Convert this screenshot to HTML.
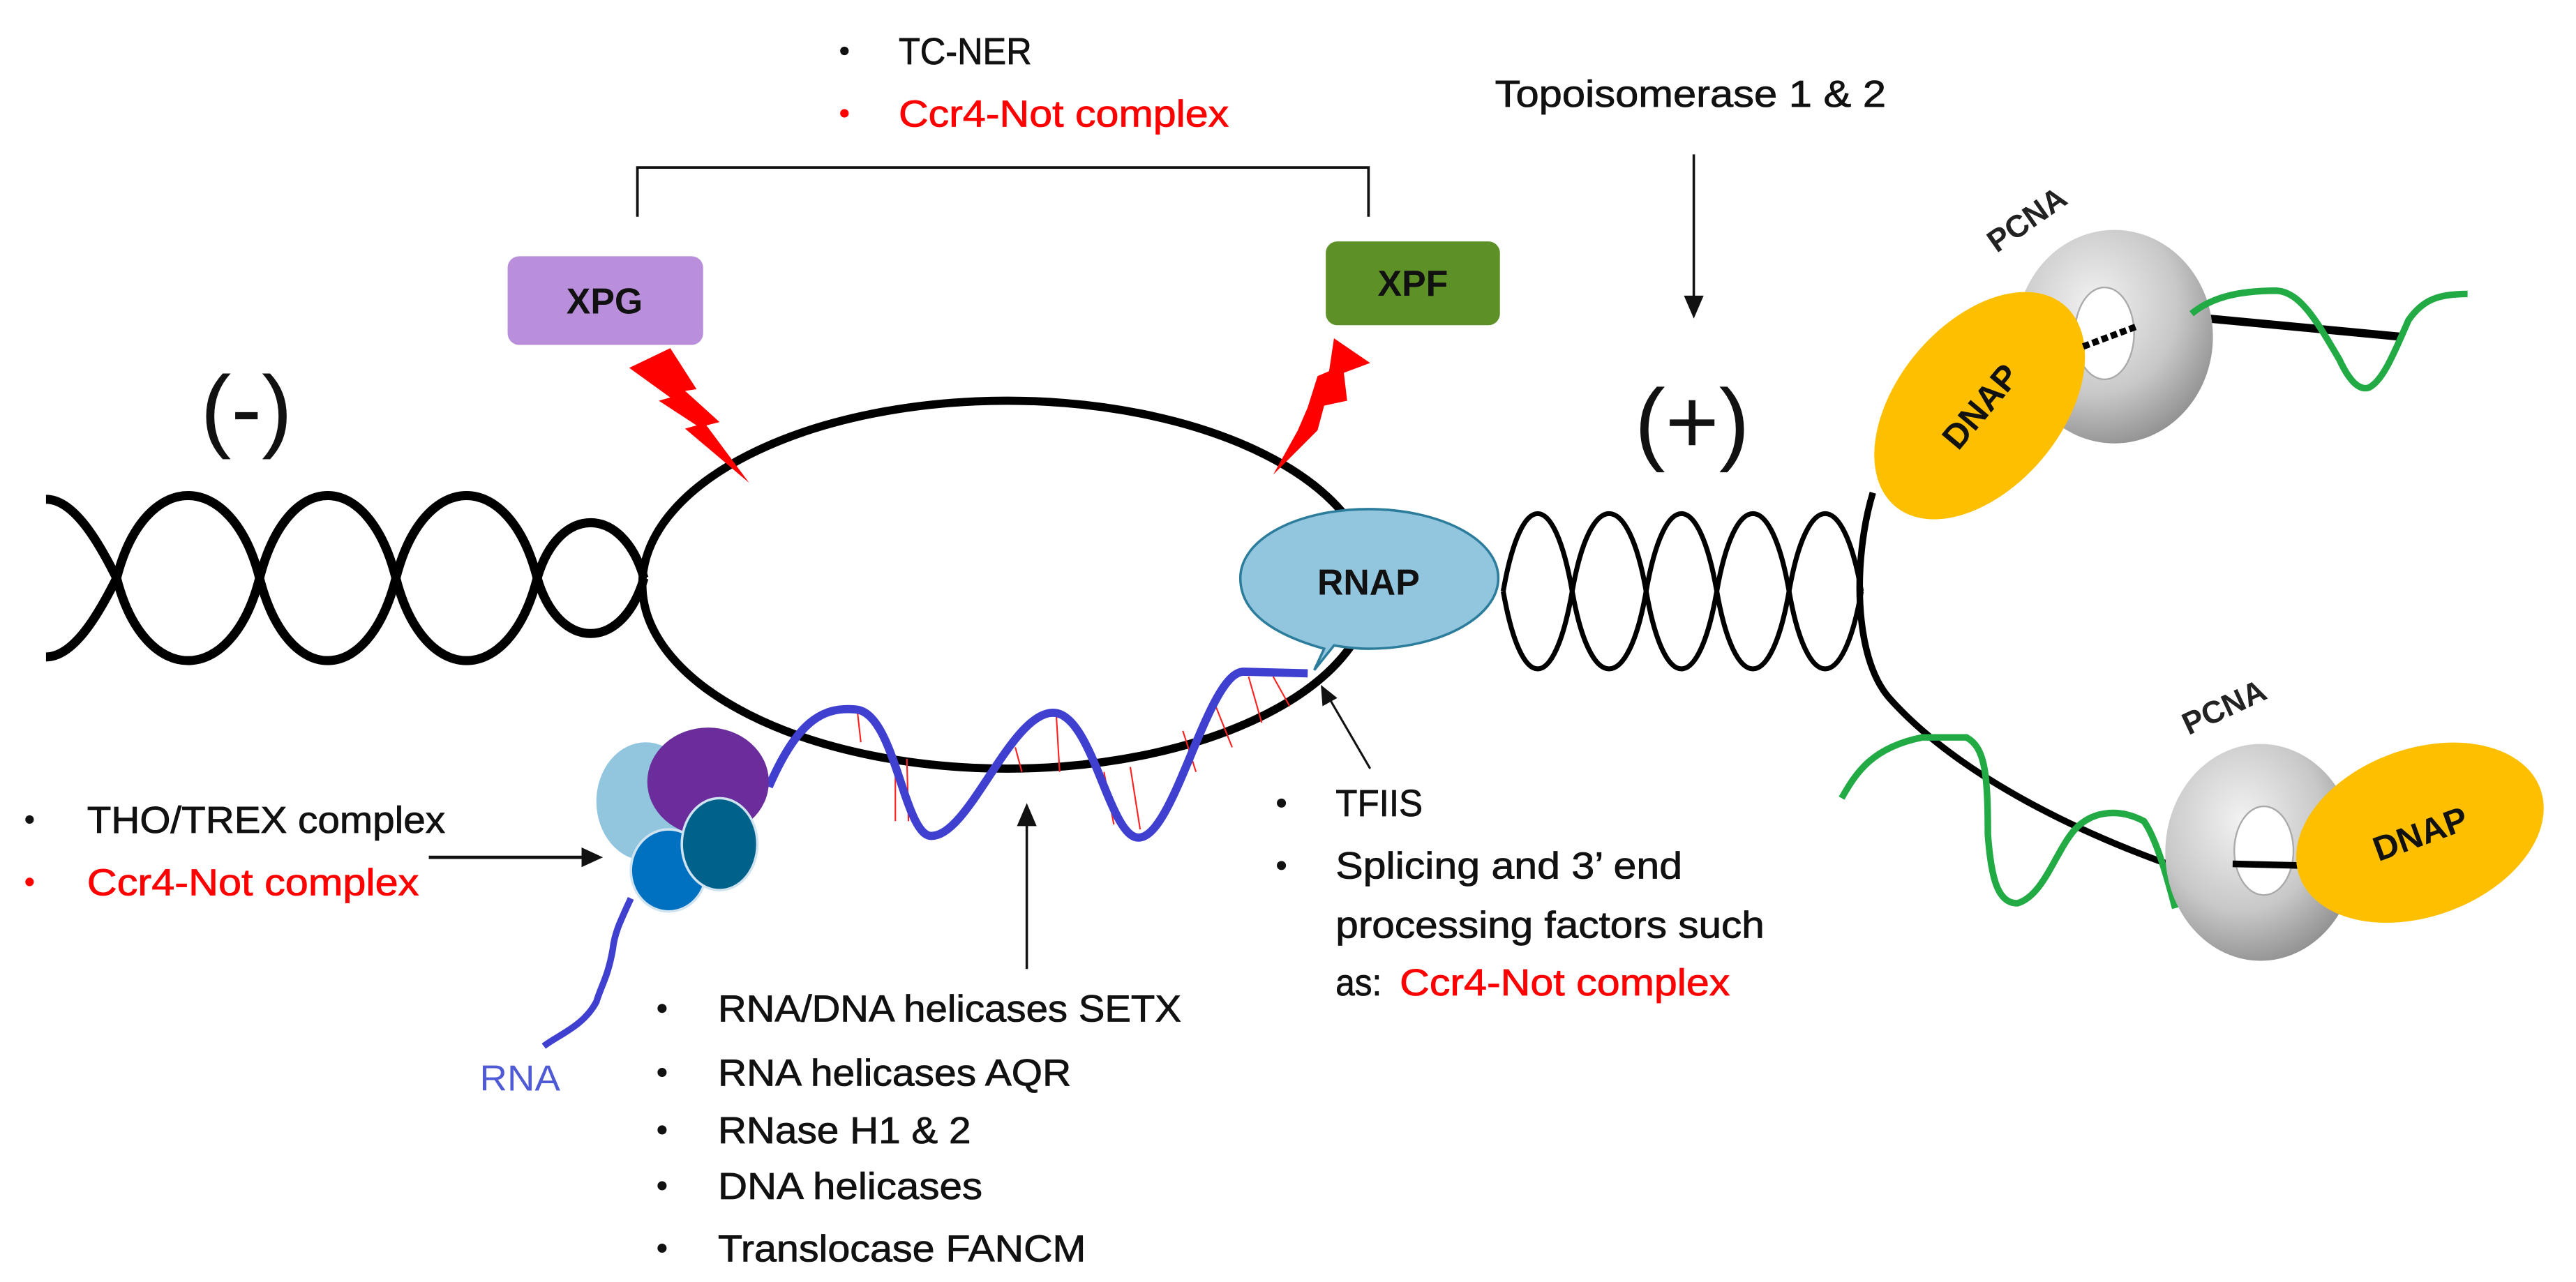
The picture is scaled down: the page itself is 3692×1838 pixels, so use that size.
<!DOCTYPE html>
<html><head><meta charset="utf-8"><style>
html,body{margin:0;padding:0;background:#fff;}
svg{display:block;}
text{font-family:"Liberation Sans",sans-serif;}
.t{stroke:currentColor;stroke-width:0.35;}
</style></head><body>
<svg width="3692" height="1838" viewBox="0 0 1568 780.6" preserveAspectRatio="none" xmlns="http://www.w3.org/2000/svg">
<defs>
<radialGradient id="rg" cx="0.4" cy="0.35" r="0.7">
<stop offset="0" stop-color="#f2f2f2"/><stop offset="0.6" stop-color="#c8c8c8"/><stop offset="1" stop-color="#8e8e8e"/>
</radialGradient>
</defs>
<rect width="1568" height="781" fill="#fff"/>

<circle cx="514" cy="31" r="2.6" fill="#111"/>
<text x="547" y="39" font-size="23" fill="#111" stroke="#111" stroke-width="0.35" textLength="81" lengthAdjust="spacingAndGlyphs">TC-NER</text>
<circle cx="514" cy="69" r="2.6" fill="#f00"/>
<text x="547" y="77" font-size="23" fill="#f00" stroke="#f00" stroke-width="0.35" textLength="201" lengthAdjust="spacingAndGlyphs">Ccr4-Not complex</text>
<text x="910" y="65" font-size="23" fill="#111" stroke="#111" stroke-width="0.35" textLength="238" lengthAdjust="spacingAndGlyphs">Topoisomerase 1 &amp; 2</text>

<path d="M388,132 L388,102 L833,102 L833,132" fill="none" stroke="#111" stroke-width="1.6"/>

<line x1="1031" y1="94" x2="1031" y2="182" stroke="#111" stroke-width="1.5"/>
<polygon points="1025,180 1037,180 1031,194" fill="#111"/>

<rect x="309" y="156" width="119" height="54" rx="7" fill="#b98fdb"/>
<text x="368" y="191" font-size="22" font-weight="bold" fill="#111" text-anchor="middle">XPG</text>
<rect x="807" y="147" width="106" height="51" rx="7" fill="#5e9028"/>
<text x="860" y="180" font-size="22" font-weight="bold" fill="#111" text-anchor="middle">XPF</text>

<text x="150" y="268" font-size="56" fill="#111" text-anchor="middle">(-)</text>
<text x="1030" y="276" font-size="56" fill="#111" text-anchor="middle">(+)</text>

<ellipse cx="613" cy="356" rx="222" ry="112" fill="none" stroke="#000" stroke-width="5"/>

<polygon points="383,224 408,212 424,237 417,238 438,257 430,259 456,294 417,261 424,259 401,244 408,242" fill="#ff0000"/>
<polygon points="812,206 834,221 818,227 820,244 806,247 802,262 775,289 790,262 796,248 802,229 809,226" fill="#ff0000"/>

<g fill="none" stroke="#000" stroke-width="5.5">
<path d="M28,304 C45,304 60,330 71,352 C88,419 141,419 158,352 C175,285 224,285 241,352 C258,419 310,419 327,352 C340,307 379,307 392,352"/>
<path d="M28,400 C45,400 60,374 71,352 C88,285 141,285 158,352 C175,419 224,419 241,352 C258,285 310,285 327,352 C340,397 379,397 392,352"/>
</g>

<g fill="none" stroke="#000" stroke-width="3">
<path d="M915,360 C926,297 946,297 957,360 C968,423 991,423 1002,360 C1013,297 1034,297 1045,360 C1056,423 1078,423 1089,360 C1100,297 1122,297 1133,360"/>
<path d="M915,360 C926,423 946,423 957,360 C968,297 991,297 1002,360 C1013,423 1034,423 1045,360 C1056,297 1078,297 1089,360 C1100,423 1122,423 1133,360"/>
</g>

<path d="M1140,300 C1128,340 1128,400 1150,425 C1190,470 1260,505 1322,527" fill="none" stroke="#000" stroke-width="4"/>
<path d="M1334,193 L1461,205" fill="none" stroke="#000" stroke-width="5"/>

<path d="M800,408 L806,395 C770,385 755,370 755,352 C755,328 790,310 833,310 C876,310 912,328 912,352 C912,376 876,395 833,395 C825,395 818,394 812,393 Z" fill="#92c5de" stroke="#2c7c9c" stroke-width="1.5"/>
<text x="833" y="362" font-size="22" font-weight="bold" fill="#111" text-anchor="middle">RNAP</text>

<g stroke="#ff2020" stroke-width="0.9">
<line x1="522" y1="434" x2="524" y2="452"/>
<line x1="545" y1="460" x2="545" y2="500"/><line x1="552" y1="462" x2="553" y2="500"/>
<line x1="618" y1="455" x2="622" y2="470"/><line x1="643" y1="436" x2="645" y2="470"/>
<line x1="672" y1="470" x2="678" y2="502"/><line x1="688" y1="467" x2="694" y2="505"/>
<line x1="720" y1="445" x2="728" y2="470"/><line x1="740" y1="430" x2="750" y2="455"/>
<line x1="760" y1="412" x2="768" y2="440"/><line x1="775" y1="412" x2="785" y2="430"/>
</g>

<path d="M468,479 C485,440 500,430 521,432 C545,434 550,509 567,509 C590,509 615,434 641,434 C665,434 675,510 693,510 C715,510 735,409 757,409 L796,410" fill="none" stroke="#4040d0" stroke-width="5"/>
<path d="M384,547 C378,560 374,568 373,578 C370,595 366,600 363,610 C355,625 340,630 331,637" fill="none" stroke="#4040d0" stroke-width="4"/>
<text x="292" y="664" font-size="22" fill="#4f5bd5" textLength="49" lengthAdjust="spacingAndGlyphs">RNA</text>

<ellipse cx="393" cy="488" rx="30" ry="36" fill="#92c5de"/>
<ellipse cx="431" cy="476" rx="37" ry="33" fill="#6b2d9b"/>
<ellipse cx="407" cy="530" rx="23" ry="25" fill="#0070c0" stroke="#cfe3f0" stroke-width="1.5"/>
<ellipse cx="438" cy="514" rx="23" ry="28" fill="#00628a" stroke="#cfe3f0" stroke-width="1.5"/>

<circle cx="18" cy="499" r="2.6" fill="#111"/>
<text x="53" y="507" font-size="23" fill="#111" stroke="#111" stroke-width="0.35" textLength="218" lengthAdjust="spacingAndGlyphs">THO/TREX complex</text>
<circle cx="18" cy="537" r="2.6" fill="#f00"/>
<text x="53" y="545" font-size="23" fill="#f00" stroke="#f00" stroke-width="0.35" textLength="202" lengthAdjust="spacingAndGlyphs">Ccr4-Not complex</text>
<line x1="261" y1="522" x2="356" y2="522" stroke="#111" stroke-width="2"/>
<polygon points="354,516 367,522 354,528" fill="#111"/>

<line x1="625" y1="500" x2="625" y2="590" stroke="#111" stroke-width="1.5"/>
<polygon points="619,503 631,503 625,489" fill="#111"/>

<g font-size="23" fill="#111" stroke="#111" stroke-width="0.35">
<circle cx="403" cy="614" r="2.6"/><text x="437" y="622" textLength="282" lengthAdjust="spacingAndGlyphs">RNA/DNA helicases SETX</text>
<circle cx="403" cy="653" r="2.6"/><text x="437" y="661" textLength="215" lengthAdjust="spacingAndGlyphs">RNA helicases AQR</text>
<circle cx="403" cy="688" r="2.6"/><text x="437" y="696" textLength="154" lengthAdjust="spacingAndGlyphs">RNase H1 &amp; 2</text>
<circle cx="403" cy="722" r="2.6"/><text x="437" y="730" textLength="161" lengthAdjust="spacingAndGlyphs">DNA helicases</text>
<circle cx="403" cy="760" r="2.6"/><text x="437" y="768" textLength="224" lengthAdjust="spacingAndGlyphs">Translocase FANCM</text>
</g>

<line x1="834" y1="468" x2="809" y2="425" stroke="#111" stroke-width="1.3"/>
<polygon points="804,417 814,425 805,430" fill="#111"/>

<g font-size="23" fill="#111" stroke="#111" stroke-width="0.35">
<circle cx="780" cy="489" r="2.6"/><text x="813" y="497" textLength="53" lengthAdjust="spacingAndGlyphs">TFIIS</text>
<circle cx="780" cy="527" r="2.6"/><text x="813" y="535" textLength="211" lengthAdjust="spacingAndGlyphs">Splicing and 3’ end</text>
<text x="813" y="571" textLength="261" lengthAdjust="spacingAndGlyphs">processing factors such</text>
<text x="813" y="606" textLength="28" lengthAdjust="spacingAndGlyphs">as:</text>
<text x="852" y="606" fill="#f00" stroke="#f00" textLength="201" lengthAdjust="spacingAndGlyphs">Ccr4-Not complex</text>
</g>

<ellipse cx="1287" cy="205" rx="60" ry="65" fill="url(#rg)"/>
<ellipse cx="1281" cy="203" rx="18" ry="28" fill="#fff" stroke="#aaa" stroke-width="1"/>
<ellipse cx="1205" cy="247" rx="80" ry="50" transform="rotate(-50 1205 247)" fill="#fdbf00"/>
<text x="1205" y="255" font-size="21" font-weight="bold" fill="#111" text-anchor="middle" transform="rotate(-50 1205 247)">DNAP</text>
<path d="M1268,211 L1300,199" stroke="#000" stroke-width="4" stroke-dasharray="4,2"/>
<path d="M1334,191 C1345,182 1360,177 1386,177 C1400,178 1410,195 1424,219 C1430,232 1436,238 1442,236 C1450,232 1456,218 1466,195 C1475,182 1485,179 1502,179" fill="none" stroke="#22aa44" stroke-width="4"/>
<text x="1234" y="140" font-size="19" font-weight="bold" fill="#222" text-anchor="middle" transform="rotate(-35 1234 134)">PCNA</text>

<path d="M1121,486 C1130,470 1140,455 1170,449 L1197,449 C1208,455 1210,470 1210,508 C1212,535 1216,550 1228,550 C1245,545 1252,515 1265,503 C1275,494 1290,492 1305,500 C1312,510 1318,530 1324,553" fill="none" stroke="#22aa44" stroke-width="4"/>
<ellipse cx="1376" cy="519" rx="58" ry="66" fill="url(#rg)"/>
<ellipse cx="1378" cy="518" rx="18" ry="27" fill="#fff" stroke="#aaa" stroke-width="1"/>
<line x1="1359" y1="526" x2="1400" y2="527" stroke="#000" stroke-width="4"/>
<ellipse cx="1473" cy="507" rx="78" ry="51" transform="rotate(-20 1473 507)" fill="#fdbf00"/>
<text x="1473" y="515" font-size="21" font-weight="bold" fill="#111" text-anchor="middle" transform="rotate(-20 1473 507)">DNAP</text>
<text x="1354" y="437" font-size="19" font-weight="bold" fill="#222" text-anchor="middle" transform="rotate(-25 1354 431)">PCNA</text>
</svg>
</body></html>
